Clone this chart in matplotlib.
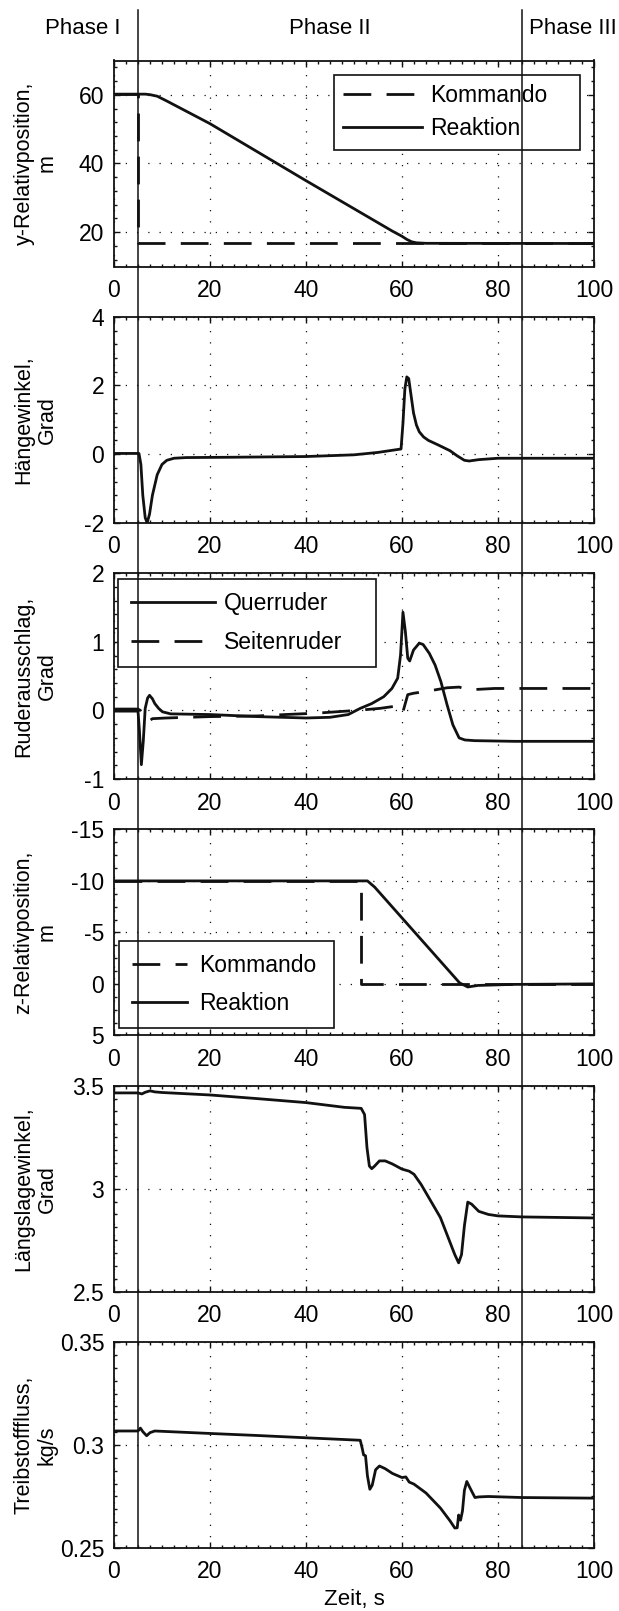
import matplotlib
matplotlib.use("Agg")
import matplotlib.pyplot as plt
import matplotlib.transforms as mtransforms
from matplotlib.lines import Line2D
from matplotlib.ticker import MultipleLocator, AutoMinorLocator, FuncFormatter

plt.rcParams['font.family'] = ['Liberation Sans', 'DejaVu Sans']
plt.rcParams['axes.unicode_minus'] = False

# phase boundaries (s)
phase_bounds = [5, 85]
phase_labels = ["Phase I", "Phase II", "Phase III"]
phase_label_t = [-6.5, 45, 95.5]

# y-Relativposition
t_y_cmd = [0, 5, 5, 100]
y_cmd = [60.2, 60.2, 16.8, 16.8]
t_y_resp = [0, 5, 6.5, 7.5, 9, 11, 20, 40, 58, 60, 61, 62, 63, 65, 100]
y_resp = [60.2, 60.2, 60.2, 60.05, 59.6, 58.2, 51.6, 35.0, 20.3, 18.8, 17.9, 17.2, 16.9, 16.75, 16.7]

# Haengewinkel
t_phi = [0, 5.2, 5.6, 6.0, 6.5, 6.9, 7.4, 8.0, 9.0, 10.0, 11.0, 12.5, 15, 25, 40, 50, 55, 59.8,
         60.2, 60.6, 61.0, 61.4, 61.8, 62.4, 63.0, 63.6, 64.5, 65.5, 67.5, 70, 71.5, 73.0, 74, 76, 80, 100]
phi = [0.02, 0.02, -0.3, -1.2, -1.85, -2.0, -1.75, -1.2, -0.6, -0.3, -0.18, -0.12, -0.1, -0.09, -0.07,
       -0.02, 0.05, 0.15, 0.9, 1.9, 2.25, 2.2, 1.8, 1.2, 0.85, 0.65, 0.5, 0.4, 0.27, 0.1, -0.05, -0.18,
       -0.2, -0.16, -0.12, -0.12]

# Ruderausschlag
t_quer = [0, 5.0, 5.3, 5.7, 6.1, 6.5, 7.0, 7.4, 8.0, 8.5, 9.3, 10.1, 11.8, 20, 30, 40, 45, 48.8, 51.3,
          53.7, 56.2, 57.9, 59.1, 59.7, 60.2, 60.7, 61.2, 61.6, 62.4, 63.6, 64.4, 65.7, 66.9, 68.1,
          69.4, 70.6, 71.9, 73.1, 75.1, 83.4, 100]
quer = [-0.01, -0.01, -0.3, -0.79, -0.45, 0.03, 0.18, 0.22, 0.17, 0.1, 0.03, -0.02, -0.05, -0.06,
        -0.09, -0.11, -0.1, -0.06, 0.03, 0.1, 0.2, 0.32, 0.47, 0.81, 1.43, 1.15, 0.76, 0.72, 0.88,
        0.98, 0.96, 0.83, 0.66, 0.42, 0.08, -0.21, -0.40, -0.43, -0.44, -0.45, -0.45]
t_seit = [0, 5.0, 5.5, 6.0, 6.6, 7.2, 8.0, 10.9, 20, 30, 35.6, 42.2, 46.3, 50.5, 55.4, 59.5, 60.2,
          61.2, 62.4, 65.3, 69.4, 71.9, 73.9, 79.3, 100]
seit = [0.02, 0.02, 0.0, -0.05, -0.12, -0.16, -0.12, -0.11, -0.09, -0.08, -0.06, -0.04, -0.02, 0.0,
        0.03, 0.07, -0.02, 0.23, 0.25, 0.28, 0.33, 0.34, 0.3, 0.32, 0.32]

# z-Relativposition
t_z_cmd = [0, 51.5, 51.5, 100]
z_cmd = [-10, -10, 0, 0]
t_z_resp = [0, 52.8, 54.3, 72.0, 73.7, 75.8, 83, 100]
z_resp = [-10, -10, -9.4, -0.1, 0.3, 0.15, 0.05, 0.0]

# Laengslagewinkel
t_theta = [0, 5, 5.8, 6.5, 7.5, 8.5, 10, 20, 30, 40, 48, 51.5, 52.2, 52.7, 53.2, 53.7, 54.3, 55.3,
           56.5, 58, 60, 61.5, 62.5, 64, 65, 66, 68, 69, 70, 71, 71.8, 72.4, 73.0, 73.7, 74.5, 76,
           78, 80, 85, 100]
theta = [3.465, 3.465, 3.46, 3.468, 3.475, 3.47, 3.467, 3.455, 3.437, 3.418, 3.395, 3.39, 3.36, 3.2,
         3.11, 3.097, 3.11, 3.135, 3.135, 3.12, 3.095, 3.085, 3.07, 3.02, 2.98, 2.94, 2.86, 2.80,
         2.74, 2.68, 2.64, 2.68, 2.82, 2.935, 2.925, 2.89, 2.875, 2.868, 2.863, 2.858]

# Treibstofffluss
t_fuel = [0, 5, 5.5, 6.0, 6.8, 7.5, 8.5, 20, 30, 40, 51.3, 51.7, 52.0, 52.4, 52.8, 53.3, 53.8, 54.5,
          55.3, 56.5, 58, 60, 60.8, 61.5, 62.5, 65, 68, 70, 71.0, 71.5, 71.8, 72.2, 72.6, 73.0, 73.5,
          74.2, 75.2, 76, 78, 85, 100]
fuel = [0.3068, 0.3068, 0.3082, 0.3065, 0.3045, 0.306, 0.3068, 0.3056, 0.3046, 0.3035, 0.3023,
        0.2985, 0.2952, 0.2948, 0.285, 0.2785, 0.2805, 0.288, 0.2898, 0.2885, 0.2862, 0.2842,
        0.2845, 0.282, 0.281, 0.2767, 0.2694, 0.2632, 0.2597, 0.2598, 0.266, 0.2635, 0.268, 0.278,
        0.2823, 0.279, 0.2745, 0.2748, 0.275, 0.2745, 0.2742]

ylabels = ["y-Relativposition,\nm", "Hängewinkel,\nGrad", "Ruderausschlag,\nGrad",
           "z-Relativposition,\nm", "Längslagewinkel,\nGrad", "Treibstofffluss,\nkg/s"]
ylims = [(10, 70), (-2, 4), (-1, 2), (5, -15), (2.5, 3.5), (0.25, 0.35)]
ysteps = [20, 2, 1, 5, 0.5, 0.05]
yminor = [5, 5, 5, 4, 8, 8]

W, H = 619, 1611
left_px, width_px = 114, 480
top0, pitch, height_px = 60.5, 256.3, 206
col = '#111111'
dash = (0, (10, 5.5))
fs = 16.5

fig = plt.figure(figsize=(W / 100, H / 100), dpi=100)
axes = []
for i in range(6):
    top = top0 + i * pitch
    ax = fig.add_axes([left_px / W, 1 - (top + height_px) / H, width_px / W, height_px / H])
    ax.set_xlim(0, 100)
    ax.set_ylim(*ylims[i])
    ax.xaxis.set_major_locator(MultipleLocator(20))
    ax.xaxis.set_minor_locator(AutoMinorLocator(8))
    ax.yaxis.set_major_locator(MultipleLocator(ysteps[i]))
    ax.yaxis.set_minor_locator(AutoMinorLocator(yminor[i]))
    ax.yaxis.set_major_formatter(FuncFormatter(lambda v, p: '%g' % round(v, 6)))
    ax.tick_params(which='both', direction='in', top=True, right=True, width=1, color=col)
    ax.tick_params(which='major', length=4, labelsize=fs)
    ax.tick_params(which='minor', length=2)
    ax.tick_params(axis='x', pad=9)
    ax.tick_params(axis='y', pad=7)
    ax.grid(True, which='major', linestyle=(0, (1, 8)), color=col, linewidth=0.9)
    for s in ax.spines.values():
        s.set_linewidth(1.3)
        s.set_color(col)
    ax.set_ylabel(ylabels[i], fontsize=15.5, linespacing=1.15)
    ax.yaxis.set_label_coords(-0.117, 0.5)
    axes.append(ax)

ax = axes[0]
ax.plot(t_y_cmd, y_cmd, color=col, lw=2, linestyle=dash, label='Kommando')
ax.plot(t_y_resp, y_resp, color=col, lw=2, label='Reaktion')
ax.legend(loc='upper left', bbox_to_anchor=(0.458, 0.0, 0.513, 0.932), mode='expand',
          borderaxespad=0, fontsize=fs, handlelength=3.45, handletextpad=0.35,
          labelspacing=0.47, borderpad=0.4, fancybox=False, framealpha=1,
          edgecolor=col).get_frame().set_linewidth(1.2)

ax = axes[1]
ax.plot(t_phi, phi, color=col, lw=2)

ax = axes[2]
ax.plot(t_quer, quer, color=col, lw=2, label='Querruder')
ax.plot(t_seit, seit, color=col, lw=2, linestyle=dash, label='Seitenruder')
ax.legend(loc='upper left', bbox_to_anchor=(0.009, 0.0, 0.537, 0.972), mode='expand',
          borderaxespad=0, fontsize=fs, handlelength=3.67, handletextpad=0.35,
          labelspacing=0.69, borderpad=0.57, fancybox=False, framealpha=1,
          edgecolor=col).get_frame().set_linewidth(1.2)

ax = axes[3]
ax.plot(t_z_cmd, z_cmd, color=col, lw=2, linestyle=dash, label='Kommando')
ax.plot(t_z_resp, z_resp, color=col, lw=2, label='Reaktion')
ax.legend(loc='lower left', bbox_to_anchor=(0.01, 0.035, 0.448, 0.5), mode='expand',
          borderaxespad=0, fontsize=fs, handlelength=2.4, handletextpad=0.55,
          labelspacing=0.67, borderpad=0.56, fancybox=False, framealpha=1,
          edgecolor=col).get_frame().set_linewidth(1.2)

ax = axes[4]
ax.plot(t_theta, theta, color=col, lw=2)

ax = axes[5]
ax.plot(t_fuel, fuel, color=col, lw=2)
ax.set_xlabel("Zeit, s", fontsize=16, labelpad=4)

# phase separators across the whole figure
top_frac = 1 - 10 / H
bot_frac = axes[-1].get_position().y0
trans = mtransforms.blended_transform_factory(axes[0].transData, fig.transFigure)
for tb in phase_bounds:
    fig.add_artist(Line2D([tb, tb], [bot_frac, top_frac], transform=trans, color=col, lw=1.1))
for lbl, tl in zip(phase_labels, phase_label_t):
    fig.text(tl, 1 - 29 / H, lbl, transform=trans, ha='center', va='center', fontsize=16)

fig.savefig("out.png", dpi=100)
